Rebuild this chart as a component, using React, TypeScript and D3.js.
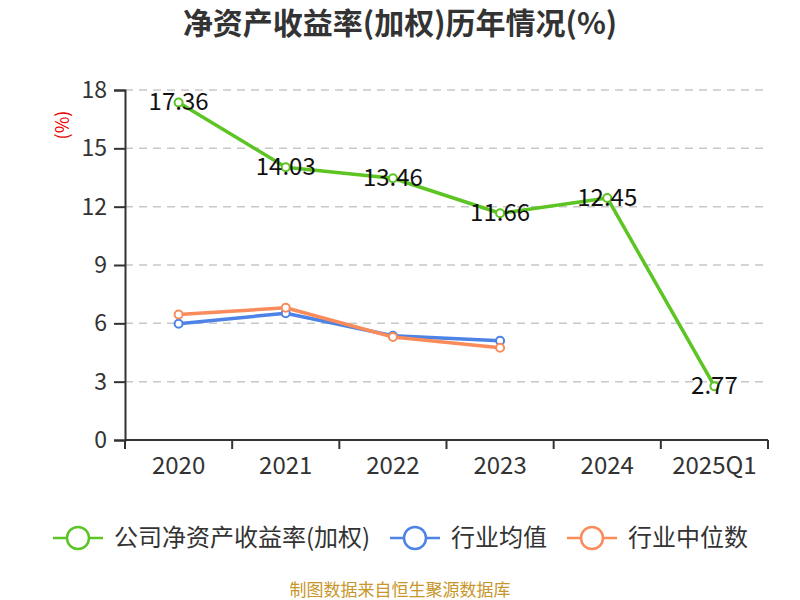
import React, { useEffect, useRef } from "react";
import * as d3 from "d3";

const categories = ["2020", "2021", "2022", "2023", "2024", "2025Q1"];
const companyRoe = [17.36, 14.03, 13.46, 11.66, 12.45, 2.77];
const industryAvg = [5.98, 6.52, 5.36, 5.1];
const industryMedian = [6.45, 6.8, 5.3, 4.74];
const yTicks = [0, 3, 6, 9, 12, 15, 18];

const FONT = "'Noto Sans CJK SC', 'Noto Sans', sans-serif";

const series = [
  { name: "公司净资产收益率(加权)", values: companyRoe, color: "#5cc423", legendX: 53 },
  { name: "行业均值", values: industryAvg, color: "#4d82e6", legendX: 390 },
  { name: "行业中位数", values: industryMedian, color: "#fa8b5a", legendX: 567 },
];

export default function App() {
  const ref = useRef<SVGSVGElement>(null);

  useEffect(() => {
    const width = 800;
    const height = 600;
    const left = 125;
    const right = 768;
    const top = 90;
    const bottom = 440;

    const svg = d3.select(ref.current);
    svg.selectAll("*").remove();
    svg.attr("width", width).attr("height", height).style("font-family", FONT);

    const x = d3.scaleBand<string>().domain(categories).range([left, right]);
    const y = d3.scaleLinear().domain([0, 18]).range([bottom, top]);

    // title
    svg
      .append("text")
      .attr("x", 400)
      .attr("y", 34)
      .attr("text-anchor", "middle")
      .style("font-size", "30px")
      .style("font-weight", "bold")
      .attr("fill", "#333")
      .text("净资产收益率(加权)历年情况(%)");

    // grid lines
    svg
      .append("g")
      .selectAll("line")
      .data(yTicks.filter((t) => t > 0))
      .enter()
      .append("line")
      .attr("x1", left)
      .attr("x2", right)
      .attr("y1", (d) => y(d))
      .attr("y2", (d) => y(d))
      .attr("stroke", "#c8c8c8")
      .attr("stroke-width", 1.5)
      .attr("stroke-dasharray", "8,6");

    // y axis
    const yAxis = d3
      .axisLeft(y)
      .tickValues(yTicks)
      .tickSize(11)
      .tickPadding(7)
      .tickFormat((d) => String(d));
    const yg = svg.append("g").attr("transform", `translate(${left},0)`).call(yAxis);
    yg.select(".domain").attr("stroke", "#333").attr("stroke-width", 2);
    yg.selectAll(".tick line").attr("stroke", "#333").attr("stroke-width", 2);
    yg.selectAll(".tick text")
      .attr("fill", "#333")
      .style("font-size", "23px")
      .style("font-family", FONT);

    // x axis
    const xg = svg.append("g").attr("transform", `translate(0,${bottom})`);
    xg.append("line")
      .attr("x1", left)
      .attr("x2", right)
      .attr("stroke", "#333")
      .attr("stroke-width", 2);
    const bounds = categories.map((c) => x(c) as number).concat([right]);
    xg.selectAll(".xt")
      .data(bounds)
      .enter()
      .append("line")
      .attr("x1", (d) => d)
      .attr("x2", (d) => d)
      .attr("y1", 0)
      .attr("y2", 9)
      .attr("stroke", "#333")
      .attr("stroke-width", 2);
    xg.selectAll(".xl")
      .data(categories)
      .enter()
      .append("text")
      .attr("x", (d) => (x(d) as number) + x.bandwidth() / 2)
      .attr("y", 34)
      .attr("text-anchor", "middle")
      .attr("fill", "#333")
      .style("font-size", "24px")
      .text((d) => d);

    // y label
    svg
      .append("text")
      .attr("transform", `translate(69,125) rotate(-90)`)
      .attr("text-anchor", "middle")
      .attr("fill", "#e00")
      .style("font-size", "18px")
      .text("(%)");

    const cx = (i: number) => (x(categories[i]) as number) + x.bandwidth() / 2;

    // draw series: industry first, company last
    [series[1], series[2], series[0]].forEach((s) => {
      const line = d3
        .line<number>()
        .x((_, i) => cx(i))
        .y((d) => y(d));
      svg
        .append("path")
        .datum(s.values)
        .attr("fill", "none")
        .attr("stroke", s.color)
        .attr("stroke-width", 3.5)
        .attr("stroke-linejoin", "round")
        .attr("d", line);
      svg
        .append("g")
        .selectAll("circle")
        .data(s.values)
        .enter()
        .append("circle")
        .attr("cx", (_, i) => cx(i))
        .attr("cy", (d) => y(d))
        .attr("r", 4)
        .attr("fill", "#fff")
        .attr("stroke", s.color)
        .attr("stroke-width", 2);
    });

    // company value labels
    svg
      .append("g")
      .selectAll("text")
      .data(companyRoe)
      .enter()
      .append("text")
      .attr("x", (_, i) => cx(i))
      .attr("y", (d) => y(d) + 8)
      .attr("text-anchor", "middle")
      .attr("fill", "#111")
      .style("font-size", "24px")
      .text((d) => d.toFixed(2));

    // legend
    const lg = svg.append("g").attr("transform", "translate(0,538)");
    series.forEach((s) => {
      const g = lg.append("g").attr("transform", `translate(${s.legendX},0)`);
      g.append("line")
        .attr("x1", 0)
        .attr("x2", 50)
        .attr("stroke", s.color)
        .attr("stroke-width", 2.5);
      g.append("circle")
        .attr("cx", 25)
        .attr("r", 11)
        .attr("fill", "#fff")
        .attr("stroke", s.color)
        .attr("stroke-width", 2.5);
      g.append("text")
        .attr("x", 61)
        .attr("y", 8)
        .attr("fill", "#333")
        .style("font-size", "24px")
        .text(s.name);
    });

    // source
    svg
      .append("text")
      .attr("x", 400)
      .attr("y", 596)
      .attr("text-anchor", "middle")
      .attr("fill", "#c8962a")
      .style("font-size", "17px")
      .text("制图数据来自恒生聚源数据库");
  }, []);

  return (
    <div style={{ position: "absolute", left: 0, top: 0 }}>
      <svg ref={ref}></svg>
    </div>
  );
}
